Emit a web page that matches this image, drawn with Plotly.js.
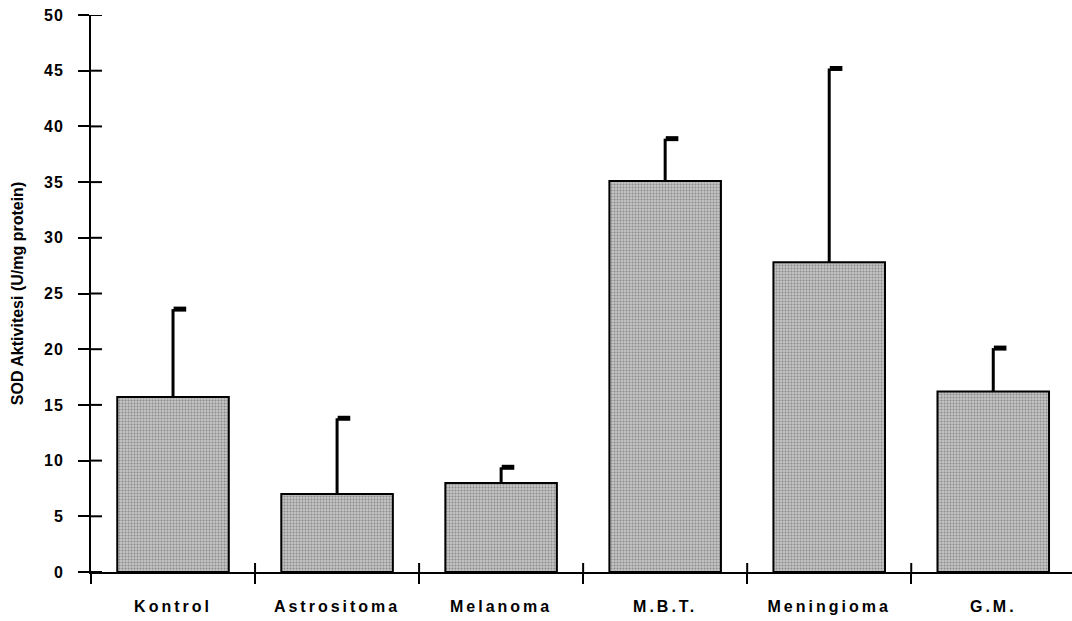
<!DOCTYPE html>
<html>
<head>
<meta charset="utf-8">
<script src="https://cdn.plot.ly/plotly-3.0.1.min.js"></script>
<style>
html,body{margin:0;padding:0;background:#fff;}
#chart{width:1072px;height:621px;}
.xaxislayer-above .xtick text{letter-spacing:3px;}
.yaxislayer-above .ytick text{letter-spacing:1px;}
</style>
</head>
<body>
<div id="chart"></div>
<script>
const categories = ["Kontrol", "Astrositoma", "Melanoma", "M.B.T.", "Meningioma", "G.M."];
const sodMean = [15.7, 7.0, 8.0, 35.1, 27.8, 16.2];
const sodSD = [7.9, 6.8, 1.4, 3.8, 17.4, 3.9];
const yTicks = [0, 5, 10, 15, 20, 25, 30, 35, 40, 45, 50];

const catIndex = categories.map((c, i) => i);
const boundaries = categories.map((c, i) => i - 0.5);
const capOffset = 0.042;

const bars = {
  type: "bar",
  x: categories,
  y: sodMean,
  width: 0.68,
  marker: {
    color: "#bcbcbc",
    line: {color: "#000", width: 2},
    pattern: {shape: ".", fgcolor: "#8a8a8a", bgcolor: "#c4c4c4", size: 3, solidity: 0.35}
  },
  error_y: {type: "data", symmetric: false, array: sodSD, arrayminus: sodSD.map(() => 0),
            color: "#000", thickness: 3, width: 0},
  hoverinfo: "x+y",
  showlegend: false
};

const caps = {
  type: "scatter",
  mode: "markers",
  xaxis: "x2",
  yaxis: "y",
  x: catIndex.map(i => i + capOffset),
  y: sodMean.map((m, i) => m + sodSD[i]),
  marker: {symbol: "line-ew", size: 9, color: "#000", line: {color: "#000", width: 5}},
  hoverinfo: "skip",
  showlegend: false
};

// inner halves of the crossing tick marks
const tickShapes = [];
yTicks.forEach(v => tickShapes.push({
  type: "line", xref: "paper", yref: "y", xsizemode: "pixel", xanchor: 0,
  x0: 0, x1: 11, y0: v, y1: v, line: {color: "#000", width: 2}
}));
boundaries.slice(1).forEach(b => tickShapes.push({
  type: "line", xref: "x2", yref: "paper", ysizemode: "pixel", yanchor: 0,
  x0: b, x1: b, y0: 0, y1: 9, line: {color: "#000", width: 2}
}));

const layout = {
  width: 1072,
  height: 621,
  margin: {l: 91, r: 0, t: 15, b: 49},
  paper_bgcolor: "#fff",
  plot_bgcolor: "#fff",
  font: {family: "Arial, Liberation Sans, sans-serif", color: "#000"},
  shapes: tickShapes,
  xaxis: {
    type: "category",
    range: [-0.5, 5.48],
    tickson: "boundaries",
    ticks: "outside",
    ticklen: 10,
    tickwidth: 2,
    tickcolor: "#000",
    showline: true,
    linewidth: 2,
    linecolor: "#000",
    showgrid: false,
    zeroline: false,
    ticklabelstandoff: 19,
    tickfont: {family: "Arial, Liberation Sans, sans-serif", size: 16, color: "#000", weight: "bold"}
  },
  xaxis2: {
    overlaying: "x",
    anchor: "y",
    range: [-0.5, 5.48],
    showticklabels: false,
    ticks: "",
    showgrid: false,
    zeroline: false,
    showline: false
  },
  yaxis: {
    range: [0, 50],
    tickmode: "array",
    tickvals: yTicks,
    ticktext: yTicks.map(String),
    ticks: "outside",
    ticklen: 11,
    tickwidth: 2,
    tickcolor: "#000",
    showline: true,
    linewidth: 2,
    linecolor: "#000",
    showgrid: false,
    zeroline: false,
    ticklabelstandoff: 11,
    tickfont: {family: "Arial, Liberation Sans, sans-serif", size: 16, color: "#000", weight: "bold"},
    title: {text: "SOD Aktivitesi (U/mg protein)", standoff: 18,
            font: {family: "Arial, Liberation Sans, sans-serif", size: 16, color: "#000", weight: "bold"}}
  }
};

Plotly.newPlot("chart", [bars, caps], layout, {displayModeBar: false, staticPlot: true});
</script>
</body>
</html>
